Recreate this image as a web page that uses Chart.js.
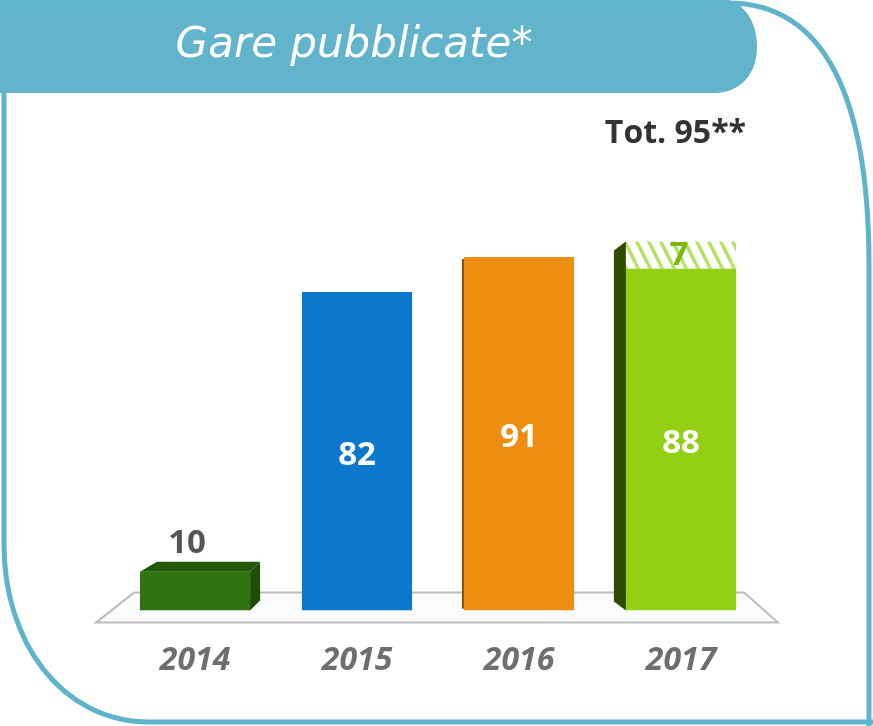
<!DOCTYPE html>
<html>
<head>
<meta charset="utf-8">
<script src="https://cdn.jsdelivr.net/npm/chart.js@4.4.1/dist/chart.umd.min.js"></script>
<style>
  html, body { margin: 0; padding: 0; background: #fff; }
  #wrap { position: relative; width: 873px; height: 726px; }
</style>
</head>
<body>
<div id="wrap"><canvas id="chart"></canvas></div>
<script>
// dati
const years = ['2014', '2015', '2016', '2017'];
const published = [10, 82, 91, 88];
const extra = [0, 0, 0, 7];
const barColors = ['#2f7411', '#0b77cd', '#ee8e10', '#93d015'];
const titleText = 'Gare pubblicate*';
const totalText = 'Tot. 95**';

const teal = '#5fb4cc';

// trama a righe per il segmento tratteggiato
function makeHatch() {
    const c = document.createElement('canvas');
    c.width = 12; c.height = 24;
    const g = c.getContext('2d');
    g.fillStyle = '#ffffff';
    g.fillRect(0, 0, 12, 24);
    g.strokeStyle = '#b4e264';
    g.lineWidth = 3.5;
    g.beginPath();
    [-12, 0, 12].forEach(x0 => { g.moveTo(x0, 0); g.lineTo(x0 + 12, 24); });
    g.stroke();
    return g.createPattern(c, 'repeat');
}
const hatch = makeHatch();

// cornice, banner e pavimento
const framePlugin = {
    id: 'frame',
    beforeDraw(chart) {
        const ctx = chart.ctx;
        const area = chart.chartArea;
        ctx.save();
        // banner
        ctx.fillStyle = '#62b4cc';
        ctx.beginPath();
        ctx.moveTo(0, 0);
        ctx.lineTo(728, 0);
        ctx.bezierCurveTo(748, 6, 757, 26, 757, 47);
        ctx.bezierCurveTo(757, 72, 742, 93, 714, 93);
        ctx.lineTo(0, 93);
        ctx.closePath();
        ctx.fill();
        // bordo esterno
        ctx.strokeStyle = teal;
        ctx.lineWidth = 5;
        ctx.beginPath();
        ctx.moveTo(4, 93);
        ctx.lineTo(4, 545);
        ctx.bezierCurveTo(4, 640, 60, 722, 150, 722);
        ctx.lineTo(873, 722);
        ctx.stroke();
        ctx.beginPath();
        ctx.moveTo(0, 3);
        ctx.lineTo(728, 3);
        ctx.bezierCurveTo(826, 3, 868, 100, 869, 260);
        ctx.lineTo(869, 726);
        ctx.stroke();
        // titolo
        ctx.fillStyle = '#ffffff';
        ctx.font = "italic 42px 'DejaVu Sans', sans-serif";
        ctx.textAlign = 'center';
        ctx.textBaseline = 'middle';
        ctx.fillText(titleText, 354, 46);
        // totale
        ctx.fillStyle = '#333333';
        ctx.font = "bold 32px 'Open Sans', sans-serif";
        ctx.textAlign = 'right';
        ctx.fillText(totalText, 746, 134);
        // pavimento
        const base = area.bottom;
        ctx.strokeStyle = '#bdbdbd';
        ctx.lineWidth = 2;
        ctx.fillStyle = '#fbfbfb';
        ctx.beginPath();
        ctx.moveTo(96, base + 12);
        ctx.lineTo(778, base + 12);
        ctx.lineTo(744, base - 18);
        ctx.lineTo(134, base - 18);
        ctx.closePath();
        ctx.fill();
        ctx.stroke();
        ctx.restore();
    },
    beforeDatasetsDraw(chart) {
        // facce laterali 3D
        const ctx = chart.ctx;
        const m0 = chart.getDatasetMeta(0).data;
        const m1 = chart.getDatasetMeta(1).data;
        ctx.save();
        // 2014: lato destro e faccia superiore
        const a = m0[0];
        const l = a.x - a.width / 2, r = a.x + a.width / 2;
        ctx.fillStyle = '#1f4d08';
        ctx.beginPath();
        ctx.moveTo(r, a.y); ctx.lineTo(r + 10, a.y - 10);
        ctx.lineTo(r + 10, a.base - 10); ctx.lineTo(r, a.base);
        ctx.closePath(); ctx.fill();
        ctx.fillStyle = '#24580b';
        ctx.beginPath();
        ctx.moveTo(l, a.y); ctx.lineTo(r, a.y);
        ctx.lineTo(r + 10, a.y - 10); ctx.lineTo(l + 17, a.y - 10);
        ctx.closePath(); ctx.fill();
        // 2016: bordino sinistro
        const c = m0[2];
        ctx.fillStyle = '#7a4a06';
        ctx.fillRect(c.x - c.width / 2 - 2, c.y + 2, 2, c.base - c.y - 4);
        // 2017: lato sinistro
        const d = m0[3], e = m1[3];
        const dl = d.x - d.width / 2;
        ctx.fillStyle = '#2f4a00';
        ctx.beginPath();
        ctx.moveTo(dl, e.y); ctx.lineTo(dl - 12, e.y + 9);
        ctx.lineTo(dl - 12, d.base - 9); ctx.lineTo(dl, d.base);
        ctx.closePath(); ctx.fill();
        ctx.restore();
    },
    afterDatasetsDraw(chart) {
        const ctx = chart.ctx;
        const m0 = chart.getDatasetMeta(0).data;
        const m1 = chart.getDatasetMeta(1).data;
        ctx.save();
        ctx.textAlign = 'center';
        ctx.textBaseline = 'middle';
        ctx.font = "bold 33px 'Open Sans', sans-serif";
        published.forEach((v, i) => {
            const el = m0[i];
            if (i === 0) {
                ctx.fillStyle = '#555555';
                ctx.fillText(String(v), el.x - 8, el.y - 28);
            } else {
                ctx.fillStyle = '#ffffff';
                ctx.fillText(String(v), el.x, (el.y + el.base) / 2 + 4);
            }
        });
        extra.forEach((v, i) => {
            if (!v) return;
            const el = m1[i];
            ctx.fillStyle = '#7cb90c';
            ctx.fillText(String(v), el.x - 2, (el.y + el.base) / 2 + 1);
        });
        ctx.restore();
    }
};

new Chart(document.getElementById('chart'), {
    type: 'bar',
    data: {
        labels: years,
        datasets: [
            { label: 'Gare pubblicate', data: published, backgroundColor: barColors, borderWidth: 0 },
            { label: 'Altre', data: extra, backgroundColor: hatch, borderWidth: 0 }
        ]
    },
    options: {
        responsive: true,
        maintainAspectRatio: false,
        animation: false,
        events: [],
        layout: { padding: { left: 114, right: 111, top: 222, bottom: 15 } },
        datasets: { bar: { barPercentage: 0.68, categoryPercentage: 1 } },
        plugins: { legend: { display: false }, tooltip: { enabled: false }, title: { display: false } },
        scales: {
            x: {
                stacked: true,
                grid: { display: false, drawTicks: false },
                border: { display: false },
                ticks: { color: '#6e6e6e', padding: 31, font: { family: "'Open Sans', sans-serif", size: 32, style: 'italic', weight: 'bold' } }
            },
            y: { stacked: true, display: false, min: 0, max: 100 }
        }
    },
    plugins: [framePlugin]
});
</script>
</body>
</html>
